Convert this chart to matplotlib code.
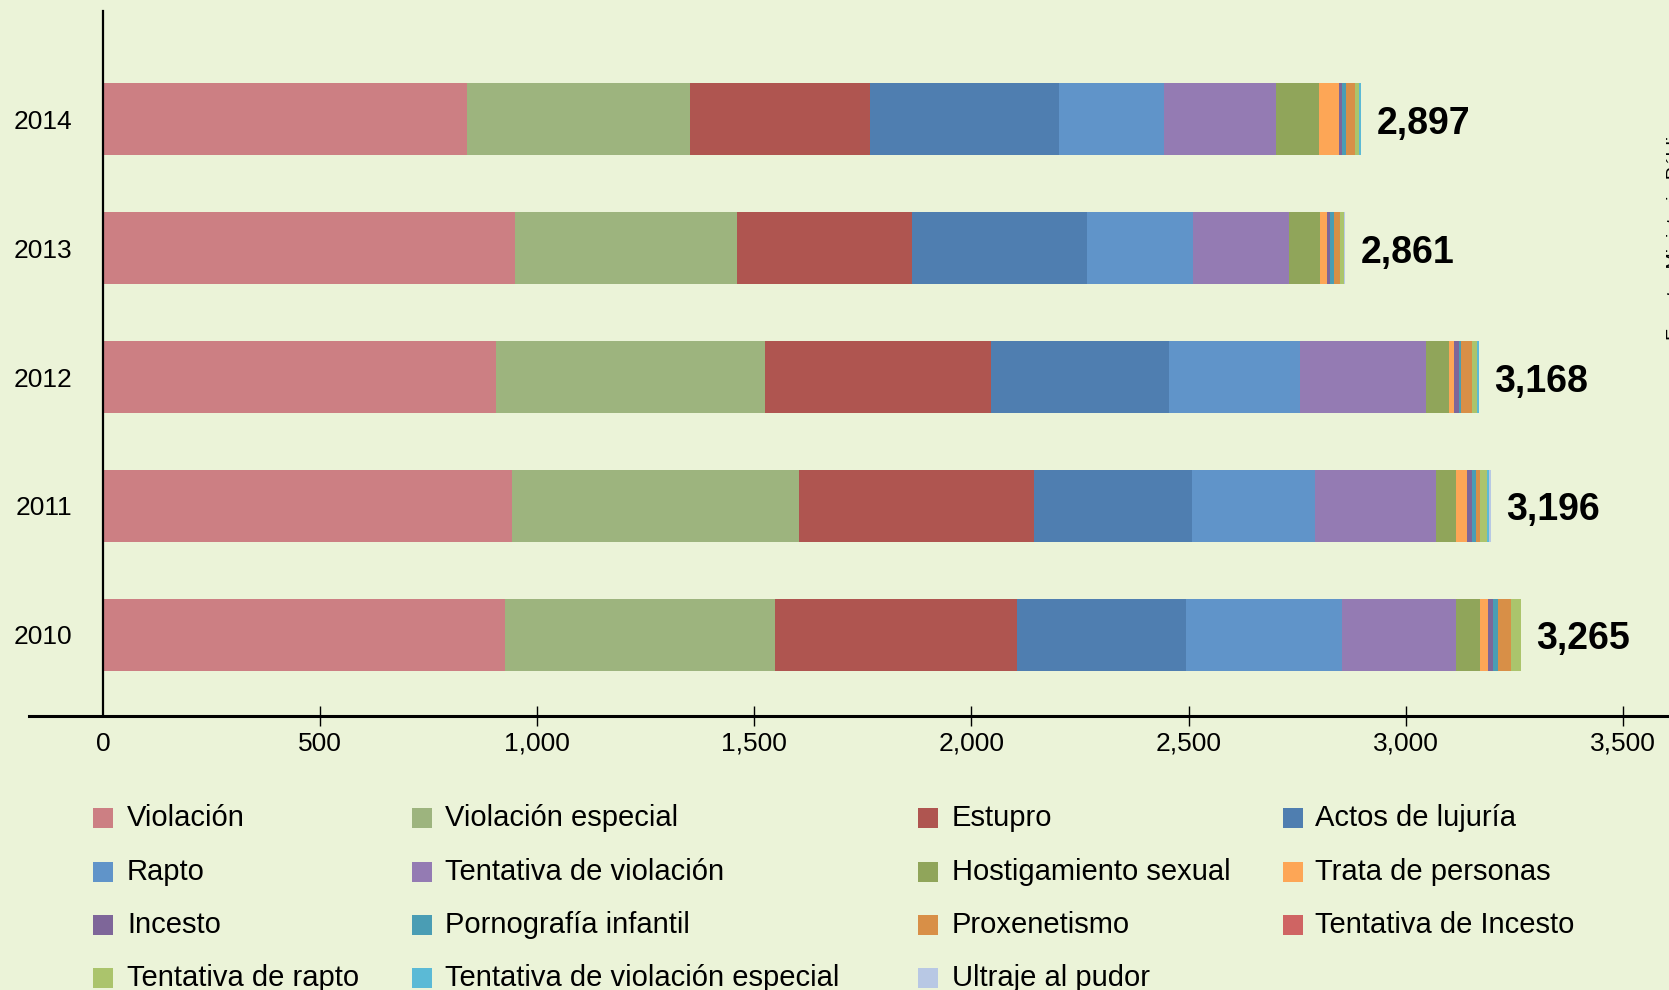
import matplotlib
matplotlib.use("Agg")
import matplotlib.pyplot as plt
from matplotlib.patches import Rectangle

plt.rcParams['font.family'] = ['Liberation Sans', 'DejaVu Sans']

years = ["2010", "2011", "2012", "2013", "2014"]
totals = [3265, 3196, 3168, 2861, 2897]

categories = [
    "Violación", "Violación especial", "Estupro", "Actos de lujuría",
    "Rapto", "Tentativa de violación", "Hostigamiento sexual", "Trata de personas",
    "Incesto", "Pornografía infantil", "Proxenetismo", "Tentativa de Incesto",
    "Tentativa de rapto", "Tentativa de violación especial", "Ultraje al pudor",
]

colors = [
    "#CC7F83", "#9DB47E", "#AF5550", "#4F7EB0",
    "#6094C9", "#947BB3", "#90A55A", "#FDA656",
    "#7E6699", "#4A9DB4", "#D88F47", "#CF6463",
    "#ABC46C", "#5BBAD6", "#B8C8E4",
]

# values per category, in year order 2010..2014
violacion          = [927, 942, 906, 950, 839]
violacion_especial = [620, 661, 618, 510, 512]
estupro            = [558, 540, 521, 402, 416]
actos_lujuria      = [390, 365, 410, 404, 434]
rapto              = [358, 282, 301, 243, 243]
tentativa_viol     = [262, 279, 290, 221, 257]
hostigamiento      = [55, 46, 53, 72, 99]
trata              = [19, 25, 12, 16, 46]
incesto            = [11, 12, 11, 7, 7]
pornografia        = [12, 9, 5, 9, 10]
proxenetismo       = [30, 9, 26, 14, 20]
tent_incesto       = [0, 0, 0, 0, 0]
tent_rapto         = [23, 17, 11, 9, 9]
tent_viol_especial = [0, 4, 4, 0, 5]
ultraje            = [0, 5, 0, 4, 0]

series = [violacion, violacion_especial, estupro, actos_lujuria, rapto,
          tentativa_viol, hostigamiento, trata, incesto, pornografia,
          proxenetismo, tent_incesto, tent_rapto, tent_viol_especial, ultraje]

xticks = [0, 500, 1000, 1500, 2000, 2500, 3000, 3500]

W, H = 1669, 990
bg = "#EBF3D8"
fig = plt.figure(figsize=(W / 100, H / 100), dpi=100, facecolor=bg)
ax = fig.add_axes([29 / W, (H - 716) / H, 1 - 29 / W, (716 - 11) / H])
ax.set_facecolor(bg)

ypos = list(range(len(years)))
lefts = [0] * len(years)
for vals, col in zip(series, colors):
    ax.barh(ypos, vals, left=lefts, height=0.56, color=col, edgecolor='none')
    lefts = [l + v for l, v in zip(lefts, vals)]

for y, tot, end in zip(ypos, totals, lefts):
    ax.text(end + 36, y - 0.035, f"{tot:,}", fontsize=27, fontweight='bold',
            va='center', ha='left', color='black')

ax.set_xlim(-170, 3606)
ax.set_ylim(-0.63, 4.84)

ax.spines['top'].set_visible(False)
ax.spines['right'].set_visible(False)
ax.spines['left'].set_position(('data', 0))
ax.spines['left'].set_linewidth(1.6)
ax.spines['bottom'].set_linewidth(2.2)

ax.set_yticks(ypos)
ax.set_yticklabels(years, fontsize=19)
ax.tick_params(axis='y', length=0, pad=22)

ax.set_xticks(xticks)
ax.set_xticklabels([f"{t:,}" for t in xticks], fontsize=19)
ax.tick_params(axis='x', direction='inout', length=15, width=1.0, pad=4)
ax.xaxis.get_major_ticks()[0].tick1line.set_visible(False)

# legend (row-major, 4 columns)
marker_x = [93, 412, 918, 1283]
text_x = [127, 445, 952, 1315]
row_y = [818, 872, 925, 978]
sq = 20
for i, (name, col) in enumerate(zip(categories, colors)):
    r, c = divmod(i, 4)
    fig.add_artist(Rectangle((marker_x[c] / W, (H - row_y[r] - sq / 2) / H),
                             sq / W, sq / H, transform=fig.transFigure,
                             facecolor=col, edgecolor='none'))
    fig.text(text_x[c] / W, (H - row_y[r]) / H, name, fontsize=21,
             va='center', ha='left', color='black')

fig.text(1667 / W, (H - 228) / H, "Fuente: Ministerio Público", rotation=90,
         fontsize=14, ha='left', va='center', color='black')

fig.savefig("out.png", dpi=100, facecolor=bg)
